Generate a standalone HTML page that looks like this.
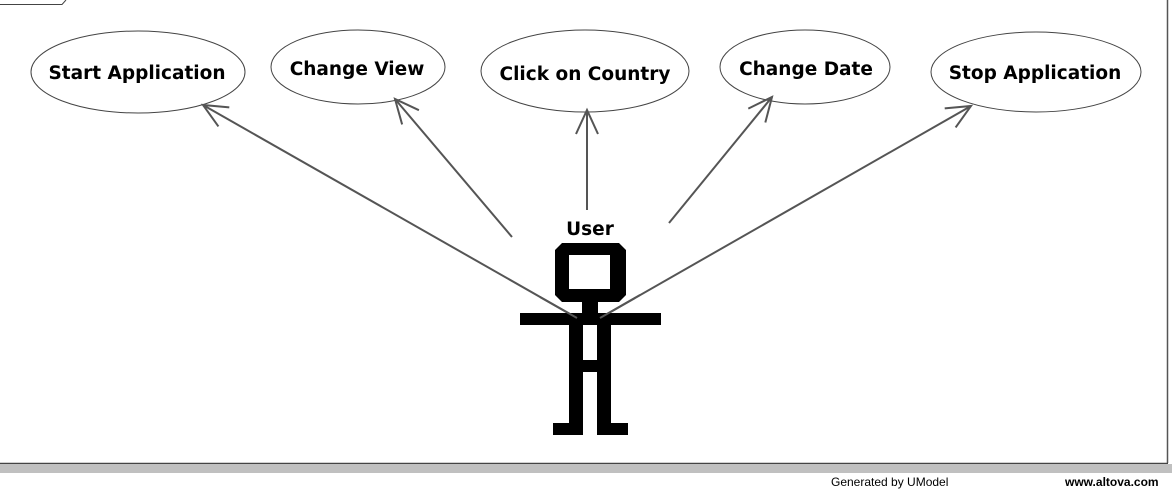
<!DOCTYPE html>
<html><head><meta charset="utf-8"><style>
html,body{margin:0;padding:0;background:#fff;width:1172px;height:489px;overflow:hidden}
svg{display:block}
text{font-family:"DejaVu Sans","Liberation Sans",sans-serif;font-weight:bold}
</style></head><body>
<svg width="1172" height="489" viewBox="0 0 1172 489" xmlns="http://www.w3.org/2000/svg">
<defs>
<marker id="a" markerUnits="userSpaceOnUse" markerWidth="60" markerHeight="60" refX="30" refY="30" orient="auto" viewBox="0 0 60 60">
<path d="M6,19 L30,30 L6,41" fill="none" stroke="#555" stroke-width="2"/>
</marker>
</defs>
<rect x="0" y="0" width="1172" height="489" fill="#fff"/>
<line x1="1167.5" y1="0" x2="1167.5" y2="463" stroke="#555" stroke-width="1.5"/>
<line x1="0" y1="463.5" x2="1168" y2="463.5" stroke="#444" stroke-width="1.5"/>
<rect x="0" y="464" width="1172" height="9" fill="#c0c0c0"/>
<path d="M0,4.5 L62,4.5 L66,0" fill="none" stroke="#444" stroke-width="1"/>
<g fill="#fff" stroke="#444" stroke-width="1">
<ellipse cx="138" cy="72" rx="107" ry="41"/>
<ellipse cx="358" cy="67" rx="87" ry="37"/>
<ellipse cx="585" cy="71" rx="104" ry="41"/>
<ellipse cx="805" cy="67" rx="85" ry="37"/>
<ellipse cx="1036" cy="72" rx="105" ry="40"/>
</g>
<g font-size="18.5" fill="#000" text-anchor="middle">
<text x="137" y="79">Start Application</text>
<text x="357" y="75">Change View</text>
<text x="585" y="80">Click on Country</text>
<text x="806" y="75">Change Date</text>
<text x="1035" y="79">Stop Application</text>
<text x="590" y="235">User</text>
</g>
<g stroke="#555" stroke-width="2" fill="none" marker-end="url(#a)">
<line x1="577" y1="318" x2="203" y2="105"/>
<line x1="512" y1="237" x2="395" y2="99"/>
<line x1="587" y1="210" x2="587" y2="110"/>
<line x1="669" y1="223" x2="772" y2="97"/>
<line x1="600" y1="318" x2="971" y2="106"/>
</g>
<g fill="#000">
<path d="M562,243 H619 L626,250 V295 L619,302 H562 L555,295 V250 Z M569,255 V289 H610 V255 Z" fill-rule="evenodd"/>
<rect x="582" y="301" width="16" height="13"/>
<rect x="520" y="313" width="141" height="12"/>
<rect x="569" y="325" width="14" height="98"/>
<rect x="597" y="325" width="14" height="98"/>
<rect x="583" y="360" width="14" height="12"/>
<rect x="553" y="423" width="30" height="12"/>
<rect x="597" y="423" width="31" height="12"/>
</g>
<line x1="577" y1="318" x2="540" y2="297" stroke="#555" stroke-width="2"/>
<line x1="600" y1="318" x2="640" y2="295" stroke="#555" stroke-width="2"/>
<g font-size="12" fill="#000">
<text x="831" y="486" style="font-weight:normal;font-family:'Liberation Sans',sans-serif">Generated by UModel</text>
<text x="1065" y="486" style="font-weight:bold;font-family:'Liberation Sans',sans-serif">www.altova.com</text>
</g>
</svg>
</body></html>
